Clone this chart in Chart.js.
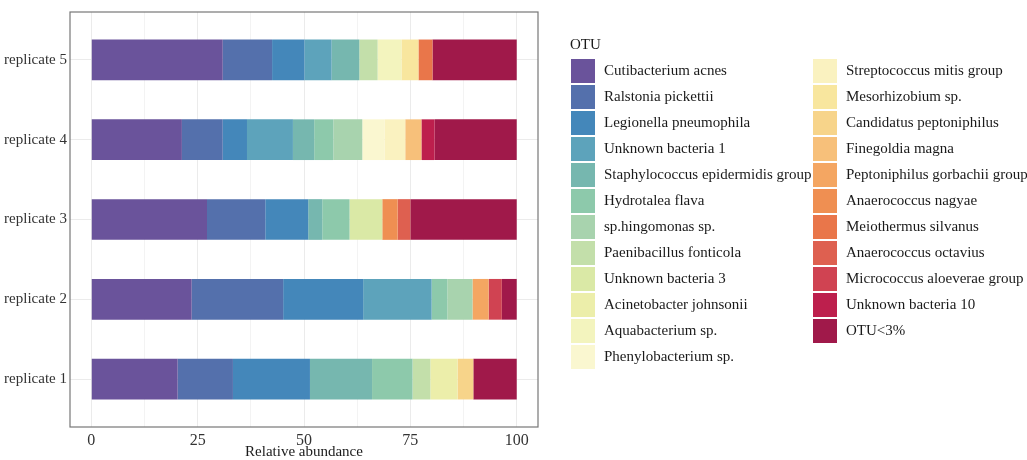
<!DOCTYPE html>
<html>
<head>
<meta charset="utf-8">
<script src="https://cdn.jsdelivr.net/npm/chart.js@4/dist/chart.umd.min.js"></script>
<style>
  body { margin: 0; background: #fff; }
  canvas { display: block; }
</style>
</head>
<body>
<canvas id="otuChart" width="1027" height="460"></canvas>
<script>
// Replicates, bottom to top
const replicates = ['replicate 1', 'replicate 2', 'replicate 3', 'replicate 4', 'replicate 5'];

// OTUs in stacking / legend order
const otus = [
    'Cutibacterium acnes', 'Ralstonia pickettii', 'Legionella pneumophila', 'Unknown bacteria 1',
    'Staphylococcus epidermidis group', 'Hydrotalea flava', 'sp.hingomonas sp.', 'Paenibacillus fonticola',
    'Unknown bacteria 3', 'Acinetobacter johnsonii', 'Aquabacterium sp.', 'Phenylobacterium sp.',
    'Streptococcus mitis group', 'Mesorhizobium sp.', 'Candidatus peptoniphilus', 'Finegoldia magna',
    'Peptoniphilus gorbachii group', 'Anaerococcus nagyae', 'Meiothermus silvanus', 'Anaerococcus octavius',
    'Micrococcus aloeverae group', 'Unknown bacteria 10', 'OTU<3%'
];

const otuColors = [
    '#6A539B', '#5470AC', '#4487BA', '#5DA3BB', '#76B7AF', '#8DC9AB', '#A8D3AE', '#C3DFAA',
    '#DAE9A6', '#ECEEAA', '#F3F4BE', '#FAF7D0', '#FAF2C0', '#F8E69E', '#F7D48A', '#F7C07A',
    '#F4A662', '#EF8F52', '#E9764A', '#DE6050', '#D04352', '#BD1F4D', '#A0194A'
];

// Relative abundance (%) per replicate, same order as otus
const rep1 = [20.3, 13.0, 18.1, 0, 14.6, 9.5, 0, 4.2, 0, 6.4, 0, 0, 0, 0, 3.7, 0, 0, 0, 0, 0, 0, 0, 10.2];
const rep2 = [23.6, 21.5, 18.8, 16.1, 0, 3.7, 5.9, 0, 0, 0, 0, 0, 0, 0, 0, 0, 3.8, 0, 0, 0, 3.1, 0, 3.5];
const rep3 = [27.2, 13.7, 10.1, 0, 3.3, 6.4, 0, 0, 7.7, 0, 0, 0, 0, 0, 0, 0, 0, 3.6, 0, 3.0, 0, 0, 25.0];
const rep4 = [21.3, 9.6, 5.7, 10.8, 5.0, 4.5, 6.8, 0, 0, 0, 0, 5.2, 4.9, 0, 0, 3.8, 0, 0, 0, 0, 0, 3.1, 19.3];
const rep5 = [30.9, 11.6, 7.6, 6.4, 6.5, 0, 0, 4.3, 0, 0, 5.6, 0, 0, 4.0, 0, 0, 0, 0, 3.3, 0, 0, 0, 19.8];

const xTicks = [0, 12.5, 25, 37.5, 50, 62.5, 75, 87.5, 100];

const repValues = [rep1, rep2, rep3, rep4, rep5];
const FONT = "'Liberation Serif', 'DejaVu Serif', serif";

const datasets = otus.map((name, i) => ({
    label: name,
    backgroundColor: otuColors[i],
    borderWidth: 0,
    barPercentage: 0.51,
    categoryPercentage: 1,
    data: repValues.map((vals, r) => ({ x: vals[i] > 0 ? vals[i] : null, y: r + 1 }))
}));

// panel border + two-column legend
const panelAndLegend = {
    id: 'panelAndLegend',
    afterDraw(chart) {
        const ctx = chart.ctx;
        const a = chart.chartArea;
        ctx.save();
        ctx.strokeStyle = '#777';
        ctx.lineWidth = 1.2;
        ctx.strokeRect(a.left, a.top, a.right - a.left, a.bottom - a.top);

        ctx.font = '15px ' + FONT;
        ctx.fillStyle = '#1a1a1a';
        ctx.textBaseline = 'middle';
        ctx.textAlign = 'left';
        ctx.fillText('OTU', 570, 45);

        chart.data.datasets.forEach((ds, i) => {
            const col = i < 12 ? 0 : 1;
            const row = i < 12 ? i : i - 12;
            const kx = col === 0 ? 571 : 813;
            const ky = 59 + row * 26;
            ctx.fillStyle = ds.backgroundColor;
            ctx.fillRect(kx, ky, 24, 24);
            ctx.fillStyle = '#1a1a1a';
            ctx.fillText(ds.label, kx + 33, ky + 12.5);
        });
        ctx.restore();
    }
};

new Chart(document.getElementById('otuChart'), {
    type: 'bar',
    data: { datasets: datasets },
    plugins: [panelAndLegend],
    options: {
        indexAxis: 'y',
        responsive: false,
        animation: false,
        layout: { padding: { left: 0, top: 11, right: 489, bottom: 0 } },
        plugins: {
            legend: { display: false },
            tooltip: { enabled: false }
        },
        scales: {
            x: {
                type: 'linear',
                stacked: true,
                min: -5,
                max: 105,
                afterBuildTicks: (scale) => { scale.ticks = xTicks.map(v => ({ value: v })); },
                afterFit: (scale) => { scale.height = 33; },
                border: { display: false },
                grid: {
                    drawTicks: false,
                    color: (c) => (c.tick && c.tick.value % 25 === 0) ? '#EBEBEB' : '#F3F3F3',
                    lineWidth: 1
                },
                ticks: {
                    padding: 4,
                    maxRotation: 0,
                    autoSkip: false,
                    color: '#333',
                    font: { family: FONT, size: 16 },
                    callback: (v) => v % 25 === 0 ? v : ''
                },
                title: {
                    display: true,
                    text: 'Relative abundance',
                    color: '#1a1a1a',
                    font: { family: FONT, size: 15, lineHeight: 1 },
                    padding: { top: 0, bottom: 0 }
                }
            },
            y: {
                type: 'linear',
                stacked: true,
                offset: false,
                min: 0.4,
                max: 5.6,
                afterBuildTicks: (scale) => { scale.ticks = replicates.map((r, i) => ({ value: i + 1 })); },
                afterFit: (scale) => { scale.width = 70; },
                border: { display: false },
                grid: { drawTicks: false, offset: false, color: '#EBEBEB', lineWidth: 1 },
                ticks: {
                    padding: 3,
                    autoSkip: false,
                    color: '#333',
                    font: { family: FONT, size: 15 },
                    callback: (v) => replicates[v - 1]
                }
            }
        }
    }
});
</script>
</body>
</html>
